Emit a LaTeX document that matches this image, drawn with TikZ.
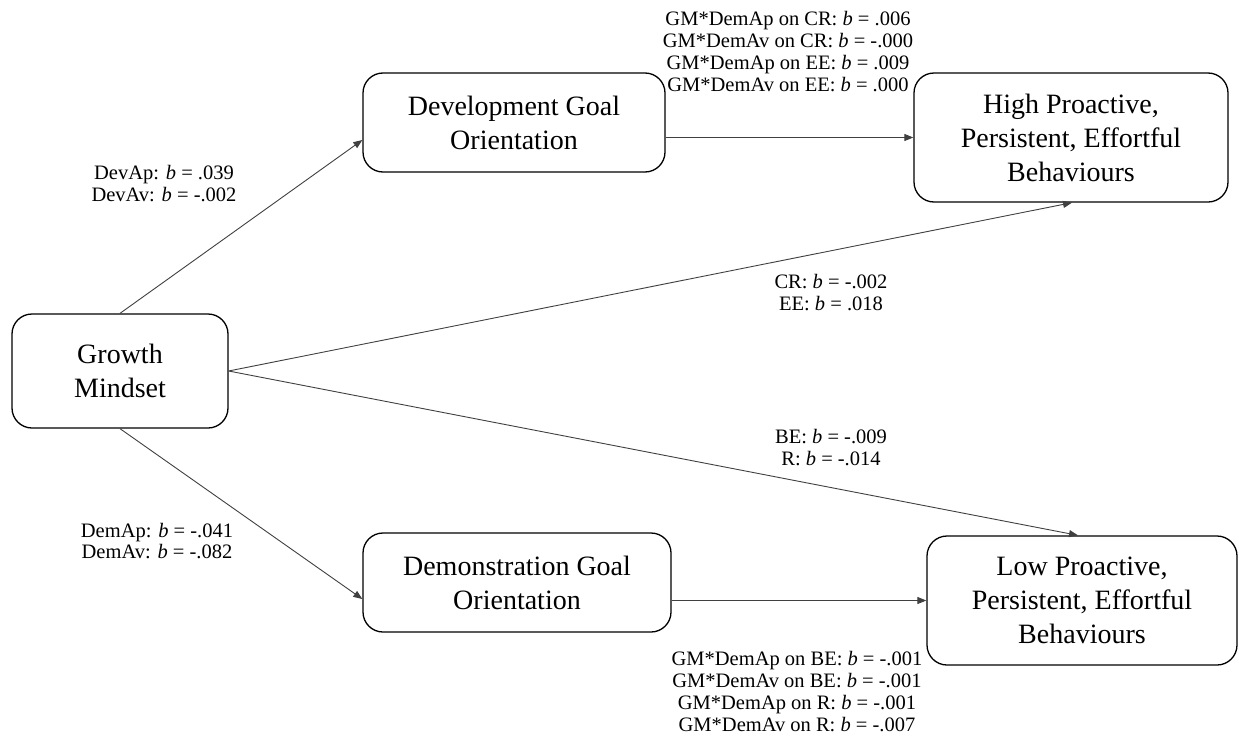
\documentclass[tikz,border=0pt]{standalone}
\usepackage{fontspec}
\setmainfont{Liberation Serif}
\usetikzlibrary{arrows.meta}
\tikzset{
  construct/.style={draw=black, line width=1.3pt, rounded corners=20pt,
    align=center, inner sep=0pt, font=\fontsize{28}{34}\selectfont},
  path/.style={draw=black!75, line width=0.9pt,
    -{Triangle[length=9pt,width=7pt]}},
  coef/.style={align=center, inner sep=0pt, font=\fontsize{20.5}{21.7}\selectfont}
}
\begin{document}
\begin{tikzpicture}[x=1pt,y=-1pt]
\useasboundingbox (0,0) rectangle (1239,744);

% constructs
\node[construct, minimum width=216pt, minimum height=114pt] (gm) at (120,371) {Growth\\Mindset};
\node[construct, minimum width=302pt, minimum height=99pt] (dev) at (514,122.5) {Development Goal\\Orientation};
\node[construct, minimum width=314pt, minimum height=129pt] (high) at (1071,137.5) {High Proactive,\\Persistent, Effortful\\Behaviours};
\node[construct, minimum width=308pt, minimum height=99pt] (dem) at (517,582.5) {Demonstration Goal\\Orientation};
\node[construct, minimum width=310pt, minimum height=129pt] (low) at (1082,600.5) {Low Proactive,\\Persistent, Effortful\\Behaviours};

% paths
\draw[path] (gm.north) -- ([yshift=-17.5pt]dev.west);
\draw[path] (gm.south) -- ([yshift=-16.5pt]dem.west);
\draw[path] (gm.east) -- ([xshift=1pt]high.south);
\draw[path] (gm.east) -- ([xshift=-4pt]low.north);
\draw[path] (dev.east |- high.west) -- (high.west);
\draw[path] (dem.east |- low.west) -- (low.west);

% coefficients
\node[coef] (c1) at (788,51.5) {GM*DemAp on CR: \textit{b} = .006\\GM*DemAv on CR: \textit{b} = -.000\\GM*DemAp on EE: \textit{b} = .009\\GM*DemAv on EE: \textit{b} = .000};
\node[coef] (c2) at (164,183.5) {DevAp: \textit{b} = .039\\DevAv: \textit{b} = -.002};
\node[coef] (c3) at (831,292.5) {CR: \textit{b} = -.002\\EE: \textit{b} = .018};
\node[coef] (c4) at (831,447.5) {BE: \textit{b} = -.009\\R: \textit{b} = -.014};
\node[coef] (c5) at (157,541) {DemAp: \textit{b} = -.041\\DemAv: \textit{b} = -.082};
\node[coef] (c6) at (797,691.5) {GM*DemAp on BE: \textit{b} = -.001\\GM*DemAv on BE: \textit{b} = -.001\\GM*DemAp on R: \textit{b} = -.001\\GM*DemAv on R: \textit{b} = -.007};
\end{tikzpicture}
\end{document}
